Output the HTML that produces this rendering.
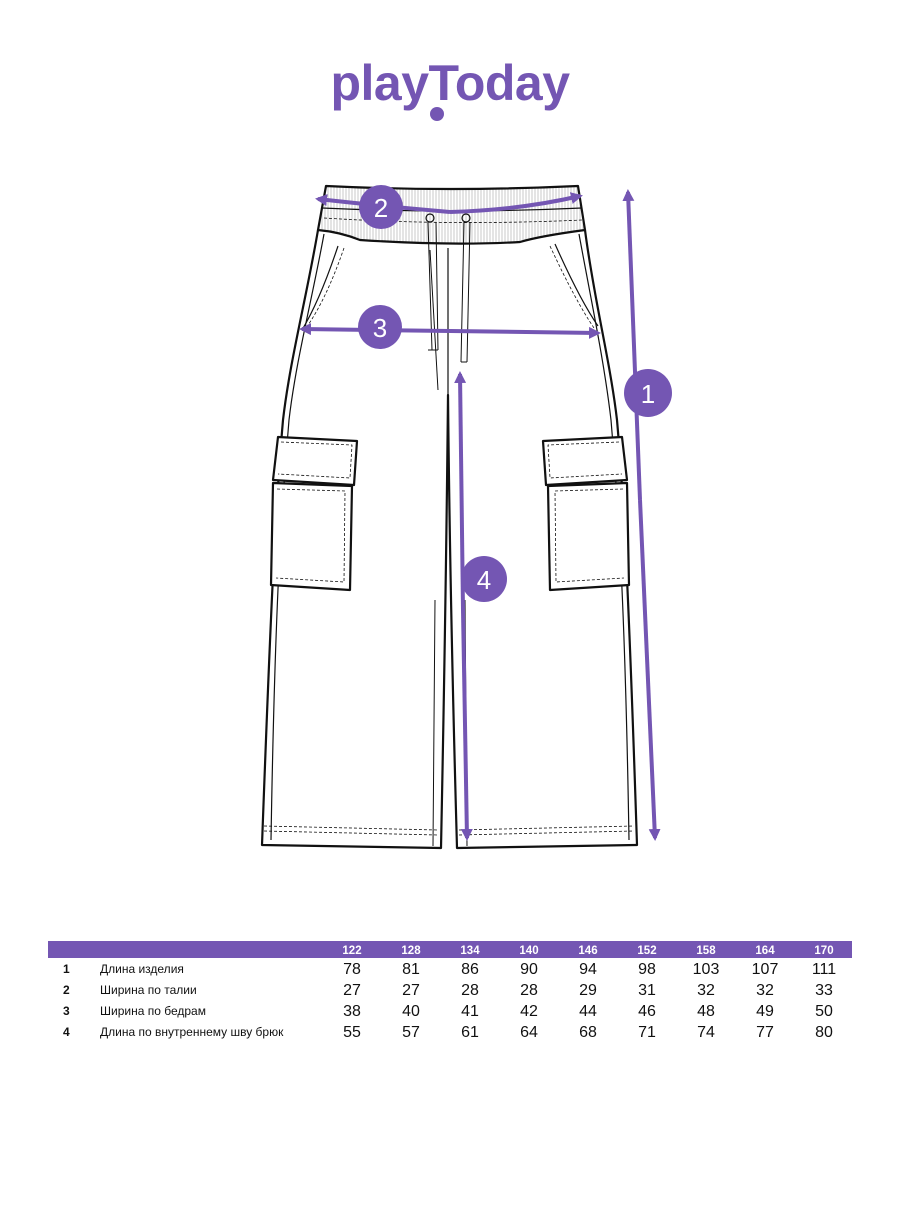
<!DOCTYPE html>
<html><head><meta charset="utf-8"><style>
body{margin:0;background:#fff;width:900px;height:1200px;overflow:hidden;font-family:"Liberation Sans",sans-serif}
</style></head><body>
<svg width="900" height="1200" viewBox="0 0 900 1200" xmlns="http://www.w3.org/2000/svg">
<defs>
<marker id="ah" markerWidth="12" markerHeight="12" refX="9" refY="6" orient="auto" markerUnits="userSpaceOnUse" viewBox="0 0 12 12">
<path d="M0,0 L12,6 L0,12 z" fill="#7456b3"/></marker>
<pattern id="rib" width="3" height="10" patternUnits="userSpaceOnUse"><line x1="1" y1="0" x2="1" y2="10" stroke="#bbb" stroke-width="0.8"/></pattern>
</defs>
<!-- logo -->
<text x="450" y="100" text-anchor="middle" font-family="Liberation Sans" font-weight="bold" font-size="50" fill="#7456b3" letter-spacing="-0.5">playToday</text>
<circle cx="437" cy="114" r="7" fill="#7456b3"/>
<g fill="none" stroke="#111" stroke-width="2.2" stroke-linejoin="round">
<!-- waistband -->
<path d="M326,186 Q450,192 578,186 L585,230 Q540,236 520,242 Q450,246 360,240 Q340,232 318,230 Z" fill="url(#rib)"/>
<path d="M322,208 Q450,214 582,208" stroke-width="1.2"/>
<path d="M324,218 Q450,226 582,220" stroke-width="0.8" stroke-dasharray="3,2"/>
<!-- outline -->
<path d="M318,230 C306,300 290,360 283,420 C276,500 271,600 262,845 L441,848 Q446,600 448,395 Q450,600 457,848 L637,845 C629,600 624,500 617,420 C610,360 594,300 585,230"/>
<path d="M324,234 C312,300 296,360 289,420 C282,500 275,600 271,840" stroke-width="1.2"/>
<path d="M579,234 C591,300 604,360 611,420 C618,500 625,600 629,840" stroke-width="1.2"/>
<path d="M435,600 L433,846 M465,600 L467,846" stroke-width="1"/>
<path d="M448,248 L448,395" stroke-width="1.2"/>
<path d="M430,250 L438,390" stroke-width="1"/>
<!-- pockets -->
<path d="M338,246 Q320,300 302,330" stroke-width="1.2"/>
<path d="M344,248 Q326,300 306,328" stroke-width="0.8" stroke-dasharray="3,2"/>
<path d="M555,244 Q580,300 598,326" stroke-width="1.2"/>
<path d="M550,246 Q575,300 594,328" stroke-width="0.8" stroke-dasharray="3,2"/>
<!-- drawstring -->
<path d="M428,222 L432,350 M436,222 L438,350 M428,350 L438,350" stroke-width="1"/>
<path d="M464,222 L461,362 M470,222 L467,362 M461,362 L467,362" stroke-width="1"/>
<circle cx="430" cy="218" r="4" stroke-width="1.2"/>
<circle cx="466" cy="218" r="4" stroke-width="1.2"/>
<!-- cargo left -->
<path d="M273,483 L352,486 L350,590 L271,585 Z" fill="#fff"/>
<path d="M277,489 L345,491 L344,582 L276,578" stroke-width="0.8" stroke-dasharray="3,2"/>
<path d="M278,437 L357,441 L354,485 L273,480 Z" fill="#fff"/>
<path d="M281,442 L352,445 L350,478 L278,474" stroke-width="0.8" stroke-dasharray="3,2"/>
<!-- cargo right -->
<path d="M627,483 L548,486 L550,590 L629,585 Z" fill="#fff"/>
<path d="M623,489 L555,491 L556,582 L624,578" stroke-width="0.8" stroke-dasharray="3,2"/>
<path d="M622,437 L543,441 L546,485 L627,480 Z" fill="#fff"/>
<path d="M619,442 L548,445 L550,478 L622,474" stroke-width="0.8" stroke-dasharray="3,2"/>
<!-- hems -->
<path d="M264,826 L438,830 M264,831 L438,835 M459,830 L634,826 M459,835 L634,831" stroke-width="0.8" stroke-dasharray="3,2"/>
</g>
<g stroke="#7456b3" stroke-width="4" fill="none">
<line x1="640" y1="500" x2="628" y2="192" marker-end="url(#ah)"/>
<line x1="640" y1="500" x2="655" y2="838" marker-end="url(#ah)"/>
<path d="M450,212 Q520,210 580,196" marker-end="url(#ah)"/>
<path d="M450,212 Q380,206 318,199" marker-end="url(#ah)"/>
<line x1="450" y1="331" x2="598" y2="333" marker-end="url(#ah)"/>
<line x1="450" y1="331" x2="302" y2="329" marker-end="url(#ah)"/>
<line x1="463" y1="610" x2="460" y2="374" marker-end="url(#ah)"/>
<line x1="463" y1="610" x2="467" y2="838" marker-end="url(#ah)"/>
</g>
<g fill="#7456b3">
<circle cx="381" cy="207" r="22"/><circle cx="380" cy="327" r="22"/>
<circle cx="648" cy="393" r="24"/><circle cx="484" cy="579" r="23"/>
</g>
<g fill="#fff" font-size="26" text-anchor="middle" font-family="Liberation Sans">
<text x="381" y="217">2</text><text x="380" y="337">3</text>
<text x="648" y="403">1</text><text x="484" y="589">4</text>
</g>
<!-- table -->
<rect x="48" y="941" width="804" height="17" fill="#7456b3"/>
<g fill="#fff" font-size="11.5" font-weight="bold" text-anchor="middle">
<text x="352" y="954">122</text><text x="411" y="954">128</text><text x="470" y="954">134</text><text x="529" y="954">140</text><text x="588" y="954">146</text><text x="647" y="954">152</text><text x="706" y="954">158</text><text x="765" y="954">164</text><text x="824" y="954">170</text>
</g>
<g fill="#111" font-size="12" font-weight="bold">
<text x="63" y="973">1</text><text x="63" y="994">2</text><text x="63" y="1015">3</text><text x="63" y="1036">4</text></g>
<g fill="#111" font-size="12">
<text x="100" y="973">Длина изделия</text><text x="100" y="994">Ширина по талии</text><text x="100" y="1015">Ширина по бедрам</text><text x="100" y="1036">Длина по внутреннему шву брюк</text></g>
<g fill="#111" font-size="16" text-anchor="middle">
<text x="352" y="974">78</text><text x="411" y="974">81</text><text x="470" y="974">86</text><text x="529" y="974">90</text><text x="588" y="974">94</text><text x="647" y="974">98</text><text x="706" y="974">103</text><text x="765" y="974">107</text><text x="824" y="974">111</text>
<text x="352" y="995">27</text><text x="411" y="995">27</text><text x="470" y="995">28</text><text x="529" y="995">28</text><text x="588" y="995">29</text><text x="647" y="995">31</text><text x="706" y="995">32</text><text x="765" y="995">32</text><text x="824" y="995">33</text>
<text x="352" y="1016">38</text><text x="411" y="1016">40</text><text x="470" y="1016">41</text><text x="529" y="1016">42</text><text x="588" y="1016">44</text><text x="647" y="1016">46</text><text x="706" y="1016">48</text><text x="765" y="1016">49</text><text x="824" y="1016">50</text>
<text x="352" y="1037">55</text><text x="411" y="1037">57</text><text x="470" y="1037">61</text><text x="529" y="1037">64</text><text x="588" y="1037">68</text><text x="647" y="1037">71</text><text x="706" y="1037">74</text><text x="765" y="1037">77</text><text x="824" y="1037">80</text>
</g>
</svg>
</body></html>
